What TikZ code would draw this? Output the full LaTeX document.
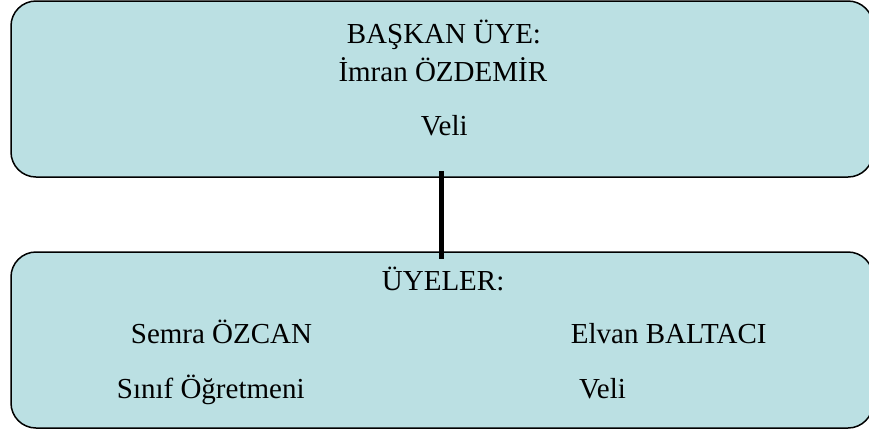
\documentclass[tikz,border=0pt]{standalone}
\usepackage{fontspec}
\setmainfont{Liberation Serif}
\definecolor{boxfill}{RGB}{187,224,227}
\begin{document}
\begin{tikzpicture}[x=1pt,y=-1pt,
  box/.style={draw=black,line width=1.5pt,fill=boxfill,rounded corners=25pt,
    minimum width=862pt,minimum height=176pt,inner sep=0pt},
  txt/.style={anchor=base west,inner sep=0pt,font=\fontsize{29pt}{34pt}\selectfont},
  link/.style={line width=5.5pt}]
\useasboundingbox (0,0) rectangle (869,432);
\clip (0,0) rectangle (869,432);
\node[box] (top) at (442,89) {};
\node[box] (bot) at (442,340) {};
\draw[link] ([xshift=-0.5pt,yshift=7pt]top.south) -- ([xshift=-0.5pt,yshift=-8pt]bot.north);
\node[txt] (t1) at (346.7,43) {BAŞKAN ÜYE:};
\node[txt] (t2) at (338.3,81.7) {İmran ÖZDEMİR};
\node[txt] (t3) at (420.7,135.7) {Veli};
\node[txt] (b1) at (381.7,290) {ÜYELER:};
\node[txt] (b2) at (130.7,343.3) {Semra ÖZCAN};
\node[txt] (b3) at (570.7,343.7) {Elvan BALTACI};
\node[txt] (b4) at (116.7,398) {Sınıf Öğretmeni};
\node[txt] (b5) at (579,398.3) {Veli};
\end{tikzpicture}
\end{document}
